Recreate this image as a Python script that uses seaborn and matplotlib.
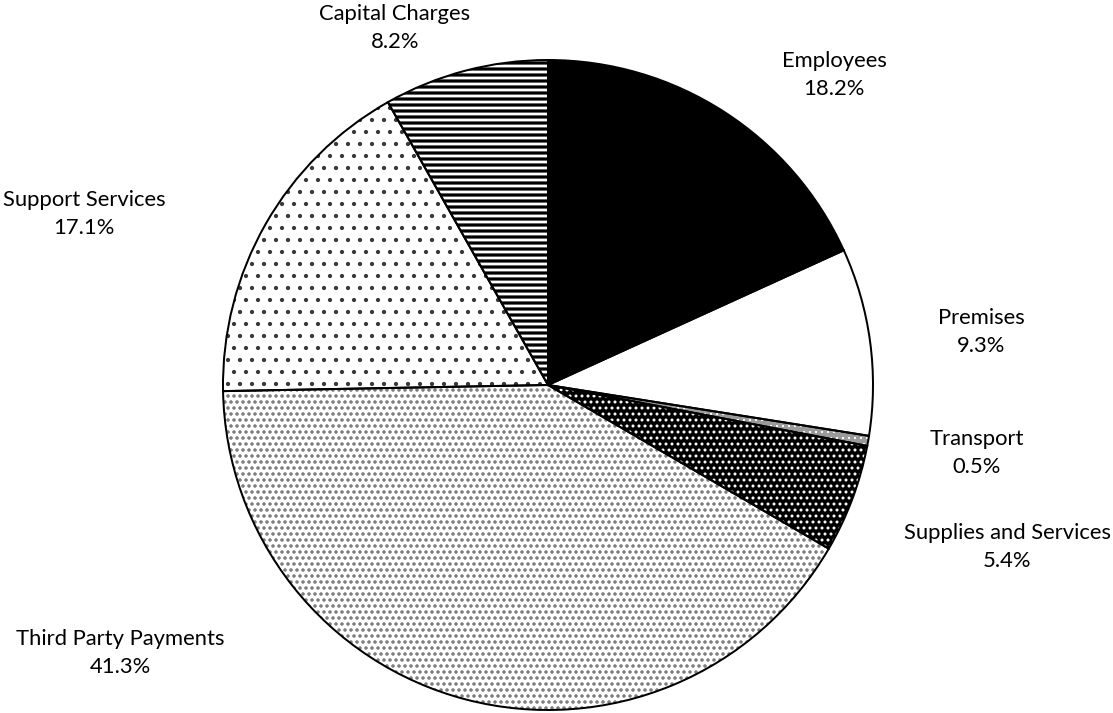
import numpy as np
import matplotlib
matplotlib.use("Agg")
import matplotlib.pyplot as plt
import seaborn as sns

# data
categories = ["Employees", "Premises", "Transport", "Supplies and Services",
              "Third Party Payments", "Support Services", "Capital Charges"]
shares = [18.2, 9.3, 0.5, 5.4, 41.3, 17.1, 8.2]

# look of each slice: face colour, hatch colour, hatch, hatch width
faces = ["black", "white", "#9a9a9a", "black", "white", "white", "white"]
hatch_cols = ["black", "white", "white", "white", "#6e6e6e", "#3a3a3a", "black"]
hatches = [None, None, "..", "..", "..", ".", "--"]
hatch_lws = [1.0, 1.0, 1.0, 1.8, 2.2, 1.8, 3.2]

# label centres in pixels (x, y from top-left)
label_px = [(834, 75), (981, 332), (977, 453), (1007, 547),
            (120, 653), (84, 214), (395, 28)]

W, H = 1113, 713
CX, CY, R = 548, 385, 325
DPI = 72

sns.set_theme(style="white")
plt.rcParams["font.family"] = ["Lato", "DejaVu Sans"]
plt.rcParams["hatch.linewidth"] = 1.8

fig = plt.figure(figsize=(W / DPI, H / DPI), dpi=DPI)
ax = fig.add_axes([0, 0, 1, 1])

wedges, _ = ax.pie(shares, startangle=90, counterclock=False, radius=1,
                   wedgeprops=dict(linewidth=0))
for w, fc, hc, ht, hl in zip(wedges, faces, hatch_cols, hatches, hatch_lws):
    w.set_facecolor(fc)
    w.set_edgecolor(hc)
    w.set_linewidth(0)
    if ht:
        w.set_hatch(ht)
        if hasattr(w, "set_hatch_linewidth"):
            w.set_hatch_linewidth(hl)
        elif hasattr(w, "_hatch_linewidth"):
            w._hatch_linewidth = hl

# outlines on top
ax.pie(shares, startangle=90, counterclock=False, radius=1,
       wedgeprops=dict(fill=False, edgecolor="black", linewidth=2))

for name, val, (px, py) in zip(categories, shares, label_px):
    ax.text((px - CX) / R, (CY - py) / R, f"{name}\n{val:.1f}%",
            ha="center", va="center", fontsize=22, linespacing=1.55,
            color="black")

ax.set_xlim(-CX / R, (W - CX) / R)
ax.set_ylim((CY - H) / R, CY / R)
ax.set_aspect("auto")
ax.axis("off")

fig.savefig("out.png", dpi=DPI, facecolor="white")
